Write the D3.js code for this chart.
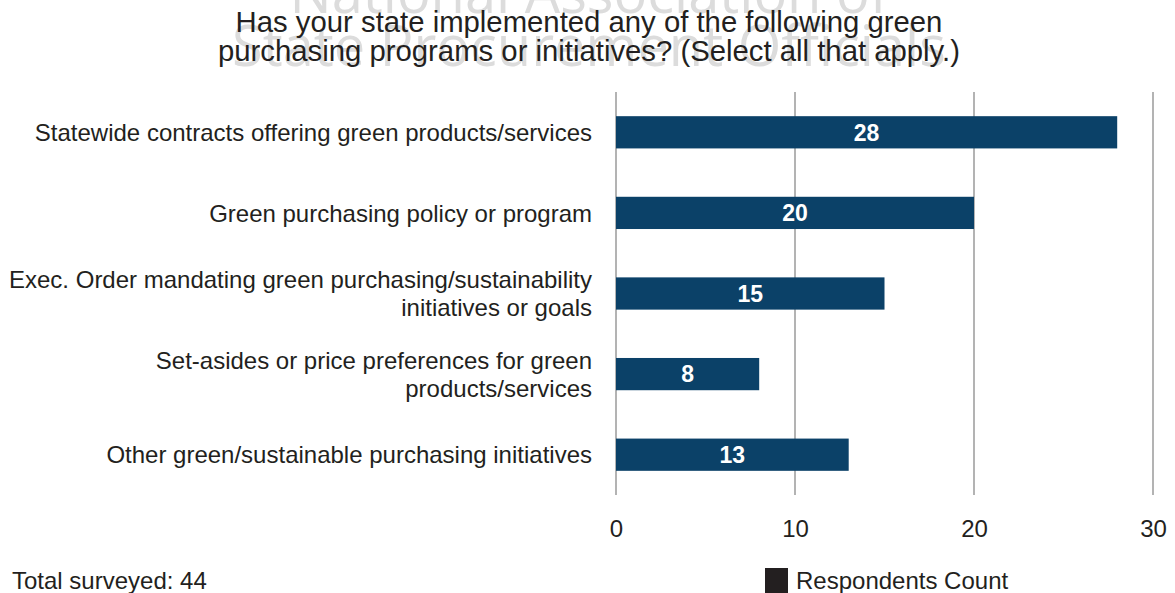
<!DOCTYPE html>
<html>
<head>
<meta charset="utf-8">
<script src="https://d3js.org/d3.v7.min.js"></script>
<style>
  body { margin: 0; background: #fff; }
  text { font-family: "Liberation Sans", Arial, Helvetica, sans-serif; }
</style>
</head>
<body>
<div id="chart"></div>
<script>
// data
const categories = [
  ["Statewide contracts offering green products/services"],
  ["Green purchasing policy or program"],
  ["Exec. Order mandating green purchasing/sustainability", "initiatives or goals"],
  ["Set-asides or price preferences for green", "products/services"],
  ["Other green/sustainable purchasing initiatives"]
];
const counts = [28, 20, 15, 8, 13];
const xTicks = [0, 10, 20, 30];
const titleLines = ["Has your state implemented any of the following green",
                    "purchasing programs or initiatives? (Select all that apply.)"];
const watermarkLines = ["National Association of", "State Procurement Officials"];

const width = 1175, height = 593;
const margin = {left: 616, right: 22, top: 92, bottom: 98};

const svg = d3.select("#chart").append("svg")
  .attr("width", width)
  .attr("height", height);

// watermark behind title
svg.selectAll(".wm")
  .data(watermarkLines)
  .join("text")
    .attr("class", "wm")
    .attr("x", 589)
    .attr("y", (d, i) => 13 + i * 53)
    .attr("text-anchor", "middle")
    .style("font-family", "'Open Sans', sans-serif")
    .style("font-size", "56px")
    .attr("fill", "#dcdcdc")
    .text(d => d);

svg.selectAll(".title")
  .data(titleLines)
  .join("text")
    .attr("class", "title")
    .attr("x", 589)
    .attr("y", (d, i) => 32 + i * 29)
    .attr("text-anchor", "middle")
    .style("font-size", "29.3px")
    .attr("fill", "#231f20")
    .text(d => d);

const x = d3.scaleLinear()
  .domain([0, 30])
  .range([margin.left, width - margin.right]);

const y = d3.scaleBand()
  .domain(d3.range(categories.length))
  .range([margin.top, height - margin.bottom])
  .paddingInner(0.6)
  .paddingOuter(0.3);

// gridlines
svg.append("g")
  .selectAll("line")
  .data(xTicks)
  .join("line")
    .attr("x1", d => x(d))
    .attr("x2", d => x(d))
    .attr("y1", margin.top)
    .attr("y2", height - margin.bottom)
    .attr("stroke", "#b3b3b3")
    .attr("stroke-width", 2);

// x axis labels
const xAxis = svg.append("g")
  .attr("transform", `translate(0, ${height - margin.bottom})`)
  .call(d3.axisBottom(x).tickValues(xTicks).tickSize(0).tickPadding(25));
xAxis.select(".domain").remove();
xAxis.selectAll("text")
  .style("font-size", "24px")
  .style("font-family", "'Liberation Sans', Arial, sans-serif")
  .attr("fill", "#231f20");

// bars
svg.append("g")
  .selectAll("rect")
  .data(counts)
  .join("rect")
    .attr("x", x(0))
    .attr("y", (d, i) => y(i))
    .attr("width", d => x(d) - x(0))
    .attr("height", y.bandwidth())
    .attr("fill", "#0b4168");

svg.append("g")
  .selectAll("text")
  .data(counts)
  .join("text")
    .attr("x", d => (x(0) + x(d)) / 2)
    .attr("y", (d, i) => y(i) + y.bandwidth() / 2)
    .attr("dy", "0.36em")
    .attr("text-anchor", "middle")
    .style("font-size", "23px")
    .style("font-weight", "bold")
    .attr("fill", "#fff")
    .text(d => d);

// category labels
const labels = svg.append("g")
  .selectAll("text")
  .data(categories)
  .join("text")
    .attr("x", 592)
    .attr("y", (d, i) => y(i) + y.bandwidth() / 2)
    .attr("text-anchor", "end")
    .style("font-size", "24px")
    .attr("fill", "#231f20");

labels.selectAll("tspan")
  .data(d => d.map((t, j) => ({t, j, n: d.length})))
  .join("tspan")
    .attr("x", 592)
    .attr("dy", d => d.j == 0 ? (0.36 - (d.n - 1) * 0.58) + "em" : "1.16em")
    .text(d => d.t);

// footer
svg.append("text")
  .attr("x", 12)
  .attr("y", 589)
  .style("font-size", "24px")
  .attr("fill", "#231f20")
  .text("Total surveyed: 44");

// legend
svg.append("rect")
  .attr("x", 765)
  .attr("y", 568)
  .attr("width", 23)
  .attr("height", 25)
  .attr("fill", "#231f20");
svg.append("text")
  .attr("x", 796)
  .attr("y", 589)
  .style("font-size", "24px")
  .attr("fill", "#231f20")
  .text("Respondents Count");
</script>
</body>
</html>
